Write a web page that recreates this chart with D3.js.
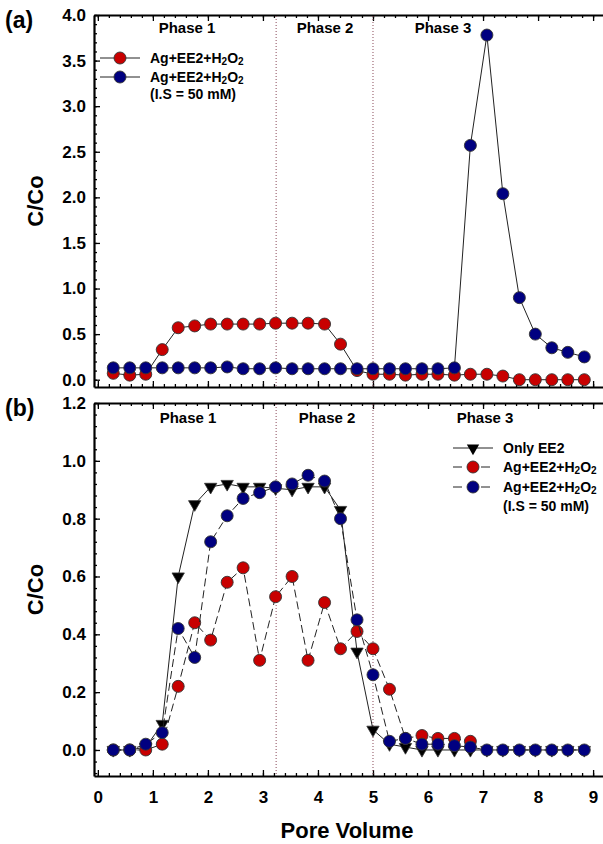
<!DOCTYPE html>
<html>
<head>
<meta charset="utf-8">
<script src="https://cdn.jsdelivr.net/npm/d3@7"></script>
<style>
  body { margin: 0; background: #fff; }
  text { font-family: Arial, "Liberation Sans", sans-serif; font-weight: bold; fill: #000; }
</style>
</head>
<body>
<div id="chart"></div>
<script>
// pore volume of each sample (same for both panels)
var poreVolume = [0.28, 0.58, 0.87, 1.17, 1.46, 1.76, 2.05, 2.35, 2.64, 2.94,
                  3.23, 3.53, 3.82, 4.12, 4.41, 4.71, 5.00, 5.30, 5.59, 5.89,
                  6.18, 6.48, 6.77, 7.07, 7.36, 7.66, 7.95, 8.25, 8.54, 8.84];

// panel (a)
var redA  = [0.07, 0.05, 0.06, 0.33, 0.57, 0.59, 0.61, 0.61, 0.61, 0.61,
             0.62, 0.62, 0.62, 0.61, 0.39, 0.10, 0.06, 0.06, 0.05, 0.06,
             0.06, 0.05, 0.06, 0.06, 0.04, 0.00, 0.00, 0.00, 0.00, 0.00];
var blueA = [0.13, 0.13, 0.13, 0.13, 0.13, 0.13, 0.13, 0.14, 0.12, 0.12,
             0.13, 0.12, 0.12, 0.12, 0.12, 0.12, 0.12, 0.12, 0.12, 0.12,
             0.12, 0.13, 2.57, 3.78, 2.04, 0.90, 0.50, 0.35, 0.30, 0.25];

// panel (b)
var onlyEE2 = [0.00, 0.00, 0.01, 0.09, 0.60, 0.85, 0.91, 0.92, 0.91, 0.91,
               0.905, 0.90, 0.91, 0.91, 0.83, 0.34, 0.07, 0.02, 0.01, 0.00,
               0.00, 0.00, 0.00, 0.00, 0.00, 0.00, 0.00, 0.00, 0.00, 0.00];
var redB  = [0.00, 0.00, 0.00, 0.02, 0.22, 0.44, 0.38, 0.58, 0.63, 0.31,
             0.53, 0.60, 0.31, 0.51, 0.35, 0.41, 0.35, 0.21, 0.04, 0.05,
             0.04, 0.04, 0.03];
var blueB = [0.00, 0.00, 0.02, 0.06, 0.42, 0.32, 0.72, 0.81, 0.87, 0.89,
             0.91, 0.92, 0.95, 0.93, 0.80, 0.45, 0.26, 0.03, 0.04, 0.02,
             0.02, 0.015, 0.01, 0.00, 0.00, 0.00, 0.00, 0.00, 0.00, 0.00];

var phaseBounds = [3.24, 5.0];
var phaseNames = ["Phase 1", "Phase 2", "Phase 3"];
var xTicks = [0, 1, 2, 3, 4, 5, 6, 7, 8, 9];
var yTicksA = [0, 0.5, 1, 1.5, 2, 2.5, 3, 3.5, 4];
var yTicksB = [0, 0.2, 0.4, 0.6, 0.8, 1.0, 1.2];

var RED = "#c80000", BLUE = "#000080";

var svg = d3.select("#chart").append("svg")
    .attr("width", 603)
    .attr("height", 844);

var xScale = d3.scaleLinear().domain([-0.07, 9.18]).range([94, 603]);

function minorTicks(lo, hi, step) {
    var out = [];
    for (var v = lo; v <= hi + 1e-9; v += step) out.push(+v.toFixed(3));
    return out;
}

function drawFrame(g, yScale, yTicks, yMinor, showXLabels) {
    var top = yScale.range()[1], bottom = yScale.range()[0];

    // minor ticks
    g.append("g").attr("transform", `translate(0,${bottom})`)
        .call(d3.axisBottom(xScale).tickValues(minorTicks(0, 9, 0.2)).tickSize(-3).tickFormat(""))
        .call(function (a) { a.select(".domain").remove(); });
    g.append("g").attr("transform", `translate(0,${top})`)
        .call(d3.axisTop(xScale).tickValues(minorTicks(0, 9, 0.2)).tickSize(-3).tickFormat(""))
        .call(function (a) { a.select(".domain").remove(); });
    g.append("g").attr("transform", `translate(${xScale.range()[0]},0)`)
        .call(d3.axisLeft(yScale).tickValues(yMinor).tickSize(-3).tickFormat(""))
        .call(function (a) { a.select(".domain").remove(); });

    // major ticks
    var xb = g.append("g").attr("transform", `translate(0,${bottom})`)
        .call(d3.axisBottom(xScale).tickValues(xTicks).tickSize(-6).tickSizeOuter(0)
            .tickPadding(15).tickFormat(showXLabels ? d3.format("d") : ""));
    g.append("g").attr("transform", `translate(0,${top})`)
        .call(d3.axisTop(xScale).tickValues(xTicks).tickSize(-6).tickSizeOuter(0).tickFormat(""));
    g.append("g").attr("transform", `translate(${xScale.range()[0]},0)`)
        .call(d3.axisLeft(yScale).tickValues(yTicks).tickSize(-6).tickSizeOuter(0)
            .tickPadding(8).tickFormat(d3.format(".1f")));

    g.selectAll(".domain").attr("stroke", "#000").attr("stroke-width", 2.2);
    g.selectAll(".tick line").attr("stroke", "#000").attr("stroke-width", 1.3);
    g.selectAll(".tick text").style("font-size", "17px").style("font-family", "Arial, 'Liberation Sans', sans-serif")
        .style("font-weight", "bold").attr("fill", "#000");
    xb.selectAll(".tick text").attr("dy", "0.71em");

    // phase boundaries
    g.selectAll(".phase")
        .data(phaseBounds)
        .enter()
        .append("line")
        .attr("x1", function (d) { return xScale(d); })
        .attr("x2", function (d) { return xScale(d); })
        .attr("y1", top + 1)
        .attr("y2", bottom - 1)
        .attr("stroke", "#8a4a5a")
        .attr("stroke-width", 1)
        .attr("stroke-dasharray", "1,2");
}

function drawSeries(g, yScale, ys, color, dash, marker) {
    var pts = ys.map(function (v, i) { return [poreVolume[i], v]; });
    var line = d3.line()
        .x(function (d) { return xScale(d[0]); })
        .y(function (d) { return yScale(d[1]); });
    g.append("path")
        .datum(pts)
        .attr("d", line)
        .attr("fill", "none")
        .attr("stroke", "#222")
        .attr("stroke-width", 1)
        .attr("stroke-dasharray", dash);
    if (marker === "triangle") {
        g.selectAll(null)
            .data(pts)
            .enter()
            .append("path")
            .attr("d", d3.symbol().type(d3.symbolTriangle).size(66))
            .attr("transform", function (d) { return `translate(${xScale(d[0])},${yScale(d[1])}) rotate(180)`; })
            .attr("fill", "#000")
            .attr("stroke", "#333")
            .attr("stroke-width", 0.8);
    } else {
        g.selectAll(null)
            .data(pts)
            .enter()
            .append("circle")
            .attr("cx", function (d) { return xScale(d[0]); })
            .attr("cy", function (d) { return yScale(d[1]); })
            .attr("r", 6)
            .attr("fill", color)
            .attr("stroke", "#333")
            .attr("stroke-width", 0.9);
    }
}

function h2o2Label(t) {
    t.append("tspan").text("Ag+EE2+H");
    t.append("tspan").text("2").style("font-size", "10px").attr("dy", 1.5);
    t.append("tspan").text("O").attr("dy", -1.5);
    t.append("tspan").text("2").style("font-size", "10px").attr("dy", 1.5);
}

function legendRow(g, x, y, label, color, dash, marker) {
    g.append("line")
        .attr("x1", x).attr("x2", x + 40)
        .attr("y1", y).attr("y2", y)
        .attr("stroke", "#222").attr("stroke-width", 1)
        .attr("stroke-dasharray", dash);
    if (marker === "triangle") {
        g.append("path")
            .attr("d", d3.symbol().type(d3.symbolTriangle).size(66))
            .attr("transform", `translate(${x + 20},${y}) rotate(180)`)
            .attr("fill", "#000");
    } else {
        g.append("circle").attr("cx", x + 20).attr("cy", y).attr("r", 6)
            .attr("fill", color).attr("stroke", "#333").attr("stroke-width", 0.9);
    }
    var t = g.append("text").attr("x", x + 50).attr("y", y + 5).style("font-size", "14px");
    if (label === "h2o2") h2o2Label(t); else t.text(label);
}

function phaseLabels(g, xs, y) {
    g.selectAll(null)
        .data(phaseNames)
        .enter()
        .append("text")
        .attr("x", function (d, i) { return xs[i]; })
        .attr("y", y)
        .attr("text-anchor", "middle")
        .style("font-size", "15px")
        .text(function (d) { return d; });
}

function yTitle(yScale) {
    var mid = (yScale.range()[0] + yScale.range()[1]) / 2;
    svg.append("text")
        .attr("transform", `translate(43,${mid}) rotate(-90)`)
        .attr("text-anchor", "middle")
        .style("font-size", "22px")
        .text("C/Co");
}

// ---- panel (a)
var yA = d3.scaleLinear().domain([-0.08, 4.0]).range([387, 15]);
var gA = svg.append("g");
drawFrame(gA, yA, yTicksA, minorTicks(0, 4, 0.1), false);
drawSeries(gA, yA, redA, RED, null, "circle");
drawSeries(gA, yA, blueA, BLUE, null, "circle");
phaseLabels(gA, [187, 325, 443], 33);
legendRow(gA, 100, 58, "h2o2", RED, null, "circle");
legendRow(gA, 100, 77, "h2o2", BLUE, null, "circle");
gA.append("text").attr("x", 150).attr("y", 99).style("font-size", "14px").text("(I.S = 50 mM)");
svg.append("text").attr("x", 5).attr("y", 28).style("font-size", "23px").text("(a)");
yTitle(yA);

// ---- panel (b)
var yB = d3.scaleLinear().domain([-0.09, 1.2]).range([776, 403]);
var gB = svg.append("g");
drawFrame(gB, yB, yTicksB, minorTicks(-0.08, 1.2, 0.04), true);
drawSeries(gB, yB, onlyEE2, "#000", null, "triangle");
drawSeries(gB, yB, redB, RED, "8,4", "circle");
drawSeries(gB, yB, blueB, BLUE, "8,4", "circle");
phaseLabels(gB, [188, 327, 485], 423);
legendRow(gB, 453, 448, "Only EE2", "#000", null, "triangle");
legendRow(gB, 453, 467, "h2o2", RED, "9,5", "circle");
legendRow(gB, 453, 487, "h2o2", BLUE, "9,5", "circle");
gB.append("text").attr("x", 503).attr("y", 511).style("font-size", "14px").text("(I.S = 50 mM)");
svg.append("text").attr("x", 5).attr("y", 416).style("font-size", "23px").text("(b)");
yTitle(yB);

svg.append("text")
    .attr("x", 347)
    .attr("y", 838)
    .attr("text-anchor", "middle")
    .style("font-size", "22px")
    .text("Pore Volume");
</script>
</body>
</html>
